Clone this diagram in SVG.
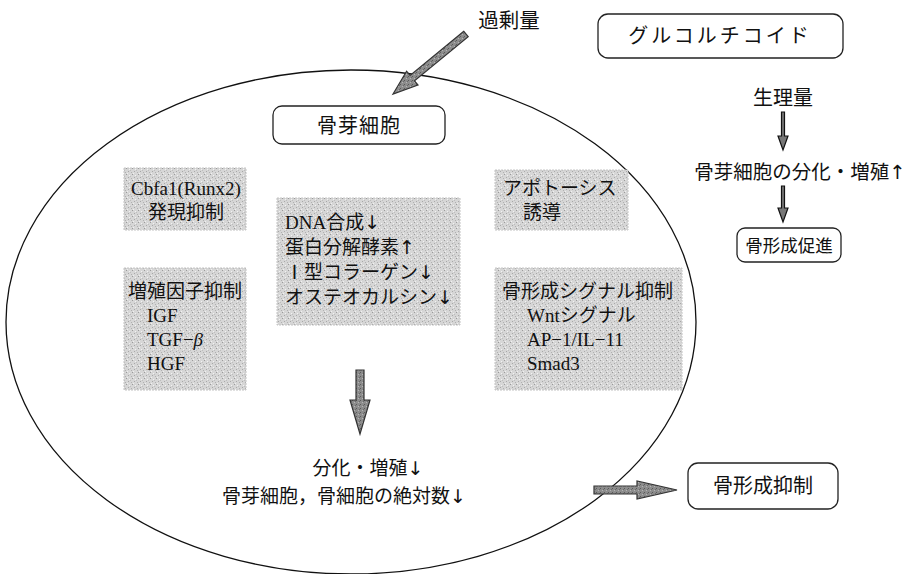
<svg xmlns="http://www.w3.org/2000/svg" width="914" height="574" viewBox="0 0 914 574">
<defs>
<pattern id="grain" width="6" height="6" patternUnits="userSpaceOnUse">
<rect width="6" height="6" fill="#d6d6d6"/>
<rect x="0" y="0" width="1" height="1" fill="#9a9a9a"/>
<rect x="3" y="1" width="1" height="1" fill="#f2f2f2"/>
<rect x="2" y="3" width="1" height="1" fill="#a8a8a8"/>
<rect x="5" y="4" width="1" height="1" fill="#b0b0b0"/>
<rect x="1" y="5" width="1" height="1" fill="#f0f0f0"/>
<rect x="4" y="2" width="1" height="1" fill="#bdbdbd"/>
</pattern>
<pattern id="grain2" width="4" height="4" patternUnits="userSpaceOnUse">
<rect width="4" height="4" fill="#8c8c8c"/>
<rect x="0" y="0" width="1" height="1" fill="#5a5a5a"/>
<rect x="2" y="2" width="1" height="1" fill="#b5b5b5"/>
<rect x="3" y="1" width="1" height="1" fill="#6a6a6a"/>
</pattern>
</defs>
<style>
.rbox{fill:#fff;stroke:#222;stroke-width:1.3}
.gbox{fill:url(#grain);stroke:#c4c4c4;stroke-width:1;stroke-dasharray:2 1}
.goth{font-family:"Noto Sans CJK JP","Liberation Sans",sans-serif;fill:#111}
.mincho{font-family:"Liberation Serif","Noto Sans CJK JP",serif;fill:#111;font-size:19px}
.ar{font-family:"DejaVu Sans",sans-serif;fill:#111}
.big{fill:url(#grain2);stroke:#333;stroke-width:1.2}
.thin{fill:#777;stroke:#111;stroke-width:1.2}
</style>
<rect width="914" height="574" fill="#fff"/>
<ellipse cx="351" cy="322" rx="345" ry="252" fill="none" stroke="#111" stroke-width="1.3"/>

<g id="kajoryo"><text class="goth" x="509" y="28" font-size="20.5" text-anchor="middle">過剰量</text></g>

<g id="glucocorticoid">
<rect class="rbox" x="598" y="14" width="245" height="44" rx="10"/>
<text class="goth" x="720" y="43" font-size="20" letter-spacing="3" text-anchor="middle">グルコルチコイド</text>
</g>

<g id="osteoblast">
<rect class="rbox" x="273" y="106" width="172" height="38" rx="9"/>
<text class="goth" x="359" y="133" font-size="20" letter-spacing="1" text-anchor="middle">骨芽細胞</text>
</g>

<g id="seiriryo"><text class="goth" x="783" y="105" font-size="20" text-anchor="middle">生理量</text></g>
<g id="bunka-up"><text class="goth" x="800" y="179" font-size="19.5" text-anchor="middle">骨芽細胞の分化・増殖<tspan class="ar">↑</tspan></text></g>

<g id="sokushin">
<rect class="rbox" x="737" y="228" width="104" height="34" rx="8"/>
<text class="goth" x="789" y="252" font-size="17.5" text-anchor="middle">骨形成促進</text>
</g>

<g id="yokusei">
<rect class="rbox" x="688" y="463" width="150" height="46" rx="10"/>
<text class="goth" x="763" y="493" font-size="20" text-anchor="middle">骨形成抑制</text>
</g>

<g id="cbfa1">
<rect class="gbox" x="124" y="168" width="122" height="62"/>
<text class="mincho" x="186" y="195" text-anchor="middle">Cbfa1(Runx2)</text>
<text class="mincho" x="186" y="219" text-anchor="middle">発現抑制</text>
</g>

<g id="apoptosis">
<rect class="gbox" x="495" y="170" width="133" height="60"/>
<text class="mincho" x="503" y="195">アポトーシス</text>
<text class="mincho" x="523" y="219">誘導</text>
</g>

<g id="center">
<rect class="gbox" x="277" y="198" width="183" height="127"/>
<text class="mincho" x="285" y="229">DNA合成<tspan class="ar">↓</tspan></text>
<text class="mincho" x="285" y="254">蛋白分解酵素<tspan class="ar">↑</tspan></text>
<text class="mincho" x="285" y="279">Ⅰ型コラーゲン<tspan class="ar">↓</tspan></text>
<text class="mincho" x="285" y="304">オステオカルシン<tspan class="ar">↓</tspan></text>
</g>

<g id="growth">
<rect class="gbox" x="124" y="268" width="122" height="122"/>
<text class="mincho" x="128" y="298">増殖因子抑制</text>
<text class="mincho" x="147" y="322">IGF</text>
<text class="mincho" x="147" y="346">TGF−<tspan font-style="italic">β</tspan></text>
<text class="mincho" x="147" y="370">HGF</text>
</g>

<g id="signal">
<rect class="gbox" x="495" y="268" width="187" height="122"/>
<text class="mincho" x="502" y="298">骨形成シグナル抑制</text>
<text class="mincho" x="527" y="322">Wntシグナル</text>
<text class="mincho" x="527" y="346">AP−1/IL−11</text>
<text class="mincho" x="527" y="370">Smad3</text>
</g>

<g id="result">
<text class="goth" x="368" y="475" font-size="19" text-anchor="middle">分化・増殖<tspan class="ar">↓</tspan></text>
<text class="goth" x="344" y="503" font-size="19" text-anchor="middle">骨芽細胞，骨細胞の絶対数<tspan class="ar">↓</tspan></text>
</g>

<g id="connectors">
<polygon class="big" points="463.8,31.3 410.1,75.4 406.6,71.2 393,94 418,85 414.5,80.8 468.2,36.7"/>
<polygon class="big" points="356,370 364,370 364,400 370,400 360,434 350,400 356,400"/>
<polygon class="big" points="594,486 637,486 637,481 677,490 637,499 637,494 594,494"/>
<polygon class="thin" points="781.5,112 784.5,112 784.5,136 788,136 783,150 778,136 781.5,136"/>
<polygon class="thin" points="781.5,186 784.5,186 784.5,208 788,208 783,222 778,208 781.5,208"/>
</g>
</svg>
